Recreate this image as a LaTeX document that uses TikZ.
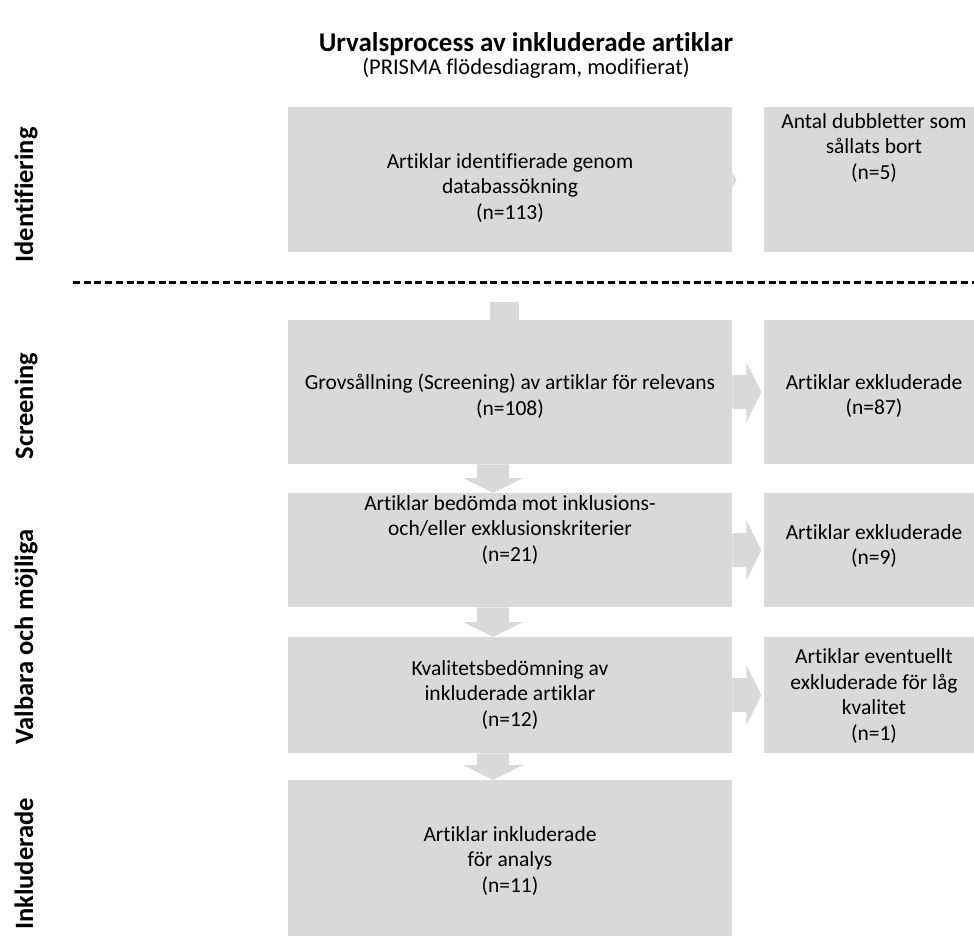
\documentclass[tikz,border=0pt]{standalone}
\usepackage{fontspec}
\setmainfont{Carlito}[Ligatures={CommonOff,ContextualOff},Contextuals=AlternateOff]
\usetikzlibrary{calc}
\definecolor{boxgray}{HTML}{D9D9D9}
\begin{document}
\begin{tikzpicture}[x=1pt,y=-1pt,
  box/.style={fill=boxgray, draw=none, inner sep=0pt, anchor=north west},
  txt/.style={font=\fontsize{21.5}{25.7}\selectfont, align=center, inner sep=0pt},
  side/.style={font=\fontsize{26.5}{30}\selectfont\bfseries, rotate=90, anchor=base, inner sep=0pt},
  blk/.style={fill=boxgray, draw=none},
  sep/.style={draw=black, line width=3pt, dash pattern=on 7pt off 3.7pt}]
\useasboundingbox (0,0) rectangle (974,940);

% title
\node[font=\fontsize{27}{31}\selectfont\bfseries, inner sep=0pt] (title) at (526,44) {Urvalsprocess av inkluderade artiklar};
\node[font=\fontsize{22.5}{26}\selectfont, inner sep=0pt] (subtitle) at (526,68) {(PRISMA flödesdiagram, modifierat)};

% left boxes
\node[box, minimum width=444pt, minimum height=145pt] (b1) at (288,107) {};
\node[box, minimum width=444pt, minimum height=144pt] (b2) at (288,320) {};
\node[box, minimum width=444pt, minimum height=114pt] (b3) at (288,493) {};
\node[box, minimum width=444pt, minimum height=116pt] (b4) at (288,637) {};
\node[box, minimum width=444pt, minimum height=156pt] (b5) at (288,780) {};
% right boxes
\node[box, minimum width=222pt, minimum height=145pt] (r1) at (764,107) {};
\node[box, minimum width=222pt, minimum height=144pt] (r2) at (764,320) {};
\node[box, minimum width=222pt, minimum height=114pt] (r3) at (764,493) {};
\node[box, minimum width=222pt, minimum height=116pt] (r4) at (764,637) {};

% texts
\node[txt] (t1) at (510,188) {Artiklar identifierade genom\\databassökning\\(n=113)};
\node[txt] (u1) at (874,148) {Antal dubbletter som\\sållats bort\\(n=5)};
\node[txt] (t2) at (510,396) {Grovsållning (Screening) av artiklar för relevans\\(n=108)};
\node[txt] (u2) at (874,396) {Artiklar exkluderade\\(n=87)};
\node[txt] (t3) at (510,530) {Artiklar bedömda mot inklusions-\\och/eller exklusionskriterier\\(n=21)};
\node[txt] (u3) at (874,546) {Artiklar exkluderade\\(n=9)};
\node[txt] (t4) at (510,695) {Kvalitetsbedömning av\\inkluderade artiklar\\(n=12)};
\node[txt] (u4) at (874,696) {Artiklar eventuellt\\exkluderade för låg\\kvalitet\\(n=1)};
\node[txt] (t5) at (510,861) {Artiklar inkluderade\\för analys\\(n=11)};

% side labels
\node[side] (s1) at (33,195) {Identifiering};
\node[side] (s2) at (33,406) {Screening};
\node[side] (s3) at (33,637) {Valbara och möjliga};
\node[side] (s4) at (33,864) {Inkluderade};

% dashed separator
\coordinate (dl) at (73,282);
\coordinate (dr) at (990,282);
\draw[sep] (dl) -- (dr);

% right block arrows
\fill[blk] ($(b1.east)+(0,-8)$) -- ($(b1.east)+(4,0)$) -- ($(b1.east)+(0,8)$) -- cycle;
\foreach \b in {b2,b3,b4}{
  \fill[blk] (\b.east) ++(0,-17) -- ++(14,0) -- ++(0,-13) -- ++(15,30) -- ++(-15,30) -- ++(0,-13) -- ++(-14,0) -- cycle;
}

% down block arrows
\fill[blk] let \p2=(b2.north) in (\x2-20pt,\y2+18pt) rectangle (\x2+9pt,\y2);
\foreach \a/\c in {b2/b3,b3/b4,b4/b5}{
  \fill[blk] let \p1=(\a.south), \p2=(\c.north) in
    (\x1-33pt,\y1) -- (\x1-1pt,\y1) -- (\x1-1pt,\y2+15pt) -- (\x1+13pt,\y2+15pt)
    -- (\x1-17pt,\y2) -- (\x1-47pt,\y2+15pt) -- (\x1-33pt,\y2+15pt) -- cycle;
}
\end{tikzpicture}
\end{document}
